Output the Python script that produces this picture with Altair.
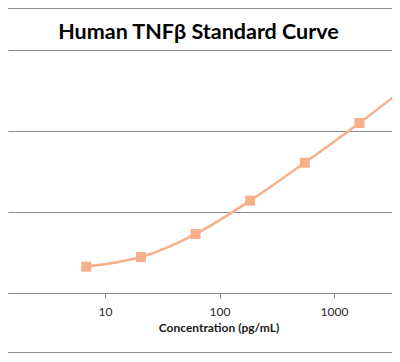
import altair as alt
import pandas as pd

conc = [6.86, 20.6, 61.7, 185.2, 555.6, 1666.7, 5000]
od = [0.325, 0.444, 0.728, 1.14, 1.609, 2.099, 2.62]
x_ticks = [10, 100, 1000]
y_grid = [0, 1, 2, 3]
title_text = "Human TNFβ Standard Curve"

df = pd.DataFrame({"conc": conc, "od": od})
frame_df = pd.DataFrame({"k": [0]})

LINE_COLOR = "#F7B08A"
GRID = "#8C8C8C"
FONT = "Lato"

x = alt.X(
    "conc:Q",
    scale=alt.Scale(type="log", domain=[1.42, 3210]),
    axis=alt.Axis(
        values=x_ticks, format="d", title="Concentration (pg/mL)", grid=False,
        domainColor=GRID, tickColor=GRID, tickSize=5, labelPadding=8,
        labelFont=FONT, labelFontSize=12, labelColor="#262626",
        titleFont=FONT, titleFontSize=12, titleFontWeight="bold",
        titleColor="#1a1a1a", titlePadding=5, titleX=210.5,
    ),
)
y = alt.Y(
    "od:Q",
    scale=alt.Scale(domain=[0, 3]),
    axis=alt.Axis(
        values=y_grid, labels=False, ticks=False, domain=False, title=None,
        grid=True, gridColor=GRID, gridWidth=1, gridOpacity=1,
    ),
)

line = alt.Chart(df).mark_line(
    color=LINE_COLOR, strokeWidth=2.5, interpolate="catmull-rom", clip=True
).encode(x=x, y=y)

pts = alt.Chart(df).mark_point(
    shape="square", filled=True, size=100, color=LINE_COLOR, opacity=1, clip=True
).encode(x=x, y=y)

top_rule = alt.Chart(frame_df).mark_rule(color=GRID, strokeWidth=1).encode(
    x=alt.value(0), x2=alt.value(384), y=alt.value(-41.5)
)
bottom_rule = alt.Chart(frame_df).mark_rule(color=GRID, strokeWidth=1).encode(
    x=alt.value(0), x2=alt.value(384), y=alt.value(302.5)
)
title = alt.Chart(frame_df).mark_text(
    text=title_text, font=FONT, fontSize=21.5, fontWeight="bold", color="#000000",
    align="center", baseline="alphabetic",
).encode(x=alt.value(190.5), y=alt.value(-11))

chart = alt.layer(top_rule, bottom_rule, title, line, pts).properties(
    width=384,
    height=243,
    padding={"left": 0, "top": 42, "right": 0, "bottom": 61},
    autosize=alt.AutoSizeParams(type="none"),
).configure_view(stroke=None)

chart.save("out.html", embed_options={"renderer": "svg", "actions": False})
